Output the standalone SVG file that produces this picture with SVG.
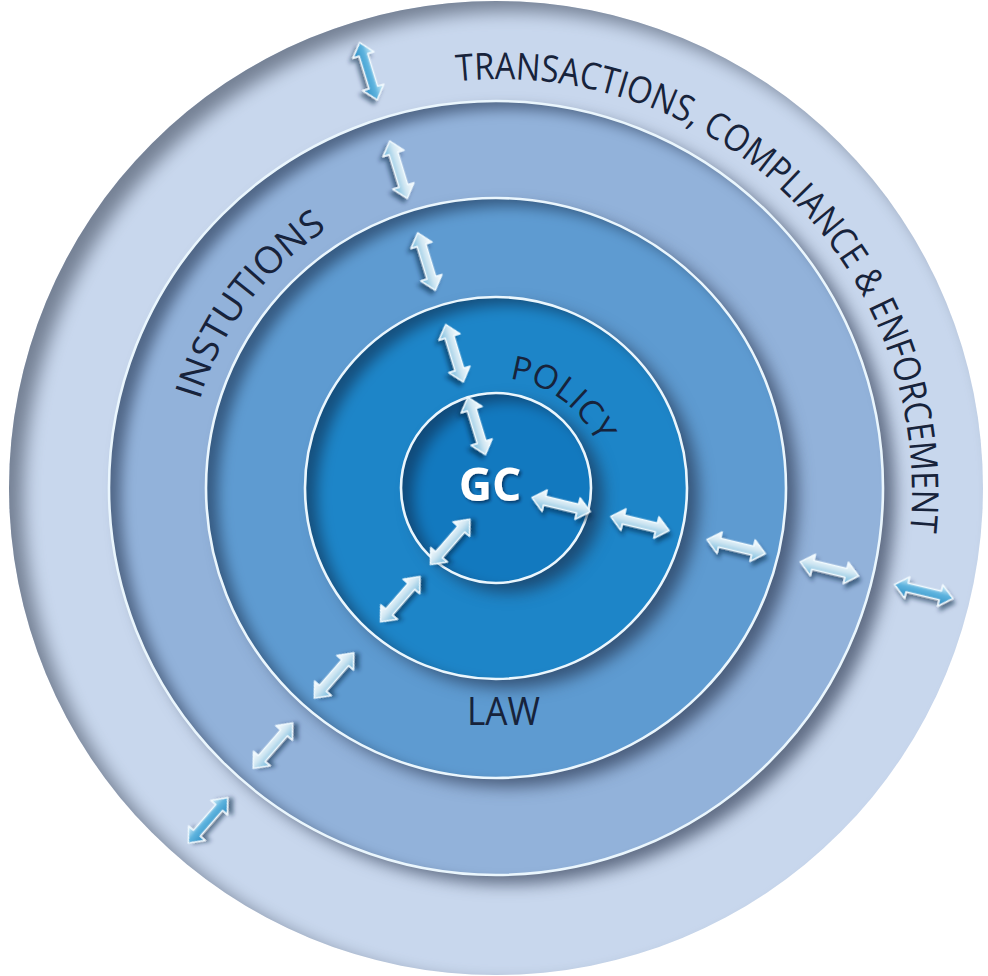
<svg xmlns="http://www.w3.org/2000/svg" xmlns:xlink="http://www.w3.org/1999/xlink" width="988" height="976" viewBox="0 0 988 976">
<defs>
<style>
.edge{fill:none;stroke:#eaf6fd;stroke-width:2.6}
.lbl{font-family:"Open Sans","Noto Sans","Liberation Sans",sans-serif;fill:#17233b}
.gc{font-family:"Open Sans","Noto Sans","Liberation Sans",sans-serif;font-weight:700;fill:#ffffff}
.arr{fill:url(#gArr);stroke:#f2fbff;stroke-width:1.6;stroke-linejoin:round;filter:url(#fArr)}
.arr.out{fill:url(#gArrOut)}
</style>
<linearGradient id="gArr" x1="0" y1="0" x2="0" y2="1">
<stop offset="0" stop-color="#ffffff"/>
<stop offset="0.45" stop-color="#cfe6f2"/>
<stop offset="1" stop-color="#6cb5da"/>
</linearGradient>
<linearGradient id="gArrOut" x1="0" y1="0" x2="0" y2="1">
<stop offset="0" stop-color="#e6f6fd"/>
<stop offset="0.45" stop-color="#5db3de"/>
<stop offset="1" stop-color="#2c8cc2"/>
</linearGradient>
<filter id="fOuter" x="-5%" y="-5%" width="110%" height="110%" color-interpolation-filters="sRGB">
<feFlood flood-color="#3c4658" result="c2"/>
<feComposite in="c2" in2="SourceAlpha" operator="out" result="inv"/>
<feOffset in="inv" dx="14" dy="10" result="invOff"/>
<feGaussianBlur in="invOff" stdDeviation="9" result="invBlur"/>
<feComposite in="invBlur" in2="SourceAlpha" operator="in" result="inner0"/>
<feComponentTransfer in="inner0" result="inner"><feFuncA type="linear" slope="0.6"/></feComponentTransfer>
<feMerge><feMergeNode in="SourceGraphic"/><feMergeNode in="inner"/></feMerge>
</filter>
<filter id="fDisc" x="-15%" y="-15%" width="130%" height="130%" color-interpolation-filters="sRGB">
<feGaussianBlur in="SourceAlpha" stdDeviation="8" result="blur"/>
<feOffset in="blur" dx="12" dy="9" result="offBlur"/>
<feFlood flood-color="#1a2640" flood-opacity="0.6" result="c1"/>
<feComposite in="c1" in2="offBlur" operator="in" result="drop"/>
<feFlood flood-color="#0d1a33" result="c2"/>
<feComposite in="c2" in2="SourceAlpha" operator="out" result="inv"/>
<feOffset in="inv" dx="12" dy="8" result="invOff"/>
<feGaussianBlur in="invOff" stdDeviation="7" result="invBlur"/>
<feComposite in="invBlur" in2="SourceAlpha" operator="in" result="inner0"/>
<feComponentTransfer in="inner0" result="inner"><feFuncA type="linear" slope="0.5"/></feComponentTransfer>
<feMerge><feMergeNode in="drop"/><feMergeNode in="SourceGraphic"/><feMergeNode in="inner"/></feMerge>
</filter>
<filter id="fArr" x="-30%" y="-60%" width="160%" height="220%">
<feGaussianBlur in="SourceAlpha" stdDeviation="2.2" result="b"/>
<feOffset in="b" dx="3" dy="4" result="ob"/>
<feFlood flood-color="#0b2240" flood-opacity="0.55"/>
<feComposite in2="ob" operator="in" result="sh"/>
<feMerge><feMergeNode in="sh"/><feMergeNode in="SourceGraphic"/></feMerge>
</filter>
<filter id="fGC" x="-20%" y="-30%" width="140%" height="160%">
<feGaussianBlur in="SourceAlpha" stdDeviation="1.5" result="b"/>
<feOffset in="b" dx="1.5" dy="2" result="ob"/>
<feFlood flood-color="#06224a" flood-opacity="0.7"/>
<feComposite in2="ob" operator="in" result="sh"/>
<feMerge><feMergeNode in="sh"/><feMergeNode in="SourceGraphic"/></feMerge>
</filter>
<path id="pOuter" d="M 456.9 81.3 A 412 412 0 0 1 905.7 562.5"/>
<path id="pInst" d="M 199.7 400.2 A 309 309 0 0 1 327.7 228.8"/>
<path id="pPolicy" d="M 509.4 378.8 A 110 110 0 0 1 596.5 443.3"/>
<path id="arrow" d="M -30 0 L -17 -11 L -17 -4.5 L 17 -4.5 L 17 -11 L 30 0 L 17 11 L 17 4.5 L -17 4.5 L -17 11 Z"/>
</defs>

<g id="transactions">
<circle cx="496" cy="488" r="487" fill="#c8d7ed" filter="url(#fOuter)"/>
<text class="lbl" font-size="37"><textPath xlink:href="#pOuter" href="#pOuter" textLength="731" lengthAdjust="spacingAndGlyphs">TRANSACTIONS, COMPLIANCE &amp; ENFORCEMENT</textPath></text>
</g>

<g id="institutions">
<circle cx="496" cy="488" r="387" fill="#92b2da" filter="url(#fDisc)"/>
<circle class="edge" cx="496" cy="488" r="387"/>
<text class="lbl" font-size="37"><textPath xlink:href="#pInst" href="#pInst" textLength="218" lengthAdjust="spacingAndGlyphs">INSTUTIONS</textPath></text>
</g>

<g id="law">
<circle cx="496" cy="488" r="290" fill="#5e9bd1" filter="url(#fDisc)"/>
<circle class="edge" cx="496" cy="488" r="290"/>
<text class="lbl" font-size="38" x="467" y="725" textLength="73" lengthAdjust="spacingAndGlyphs">LAW</text>
</g>

<g id="policy">
<circle cx="496" cy="488" r="191" fill="#1d85c8" filter="url(#fDisc)"/>
<circle class="edge" cx="496" cy="488" r="191"/>
<text class="lbl" font-size="33"><textPath xlink:href="#pPolicy" href="#pPolicy" textLength="113" lengthAdjust="spacingAndGlyphs">POLICY</textPath></text>
</g>

<g id="gc">
<circle cx="496" cy="488" r="95" fill="#1279bf" filter="url(#fDisc)"/>
<circle class="edge" cx="496" cy="488" r="95"/>
<text class="gc" font-size="46" x="490" y="501" text-anchor="middle" filter="url(#fGC)">GC</text>
</g>

<g id="connectors">
<use href="#arrow" class="arr" transform="translate(476.7 425.9) rotate(73)"/>
<use href="#arrow" class="arr" transform="translate(454.5 353.2) rotate(73)"/>
<use href="#arrow" class="arr" transform="translate(426.5 261.5) rotate(73)"/>
<use href="#arrow" class="arr" transform="translate(398.5 169.7) rotate(73)"/>
<use href="#arrow" class="arr out" transform="translate(368.4 71.2) rotate(73)"/>
<use href="#arrow" class="arr" transform="translate(561.1 504.6) rotate(13.5)"/>
<use href="#arrow" class="arr" transform="translate(639.9 523.5) rotate(13.5)"/>
<use href="#arrow" class="arr" transform="translate(736.1 546.6) rotate(13.5)"/>
<use href="#arrow" class="arr" transform="translate(829.4 568.9) rotate(13.5)"/>
<use href="#arrow" class="arr out" transform="translate(923.7 591.5) rotate(13.5)"/>
<use href="#arrow" class="arr" transform="translate(450.1 541.9) rotate(-49)"/>
<use href="#arrow" class="arr" transform="translate(400.2 599.2) rotate(-49)"/>
<use href="#arrow" class="arr" transform="translate(334 675.5) rotate(-49)"/>
<use href="#arrow" class="arr" transform="translate(272.9 745.7) rotate(-49)"/>
<use href="#arrow" class="arr out" transform="translate(208 820.4) rotate(-49)"/>
</g>
</svg>
